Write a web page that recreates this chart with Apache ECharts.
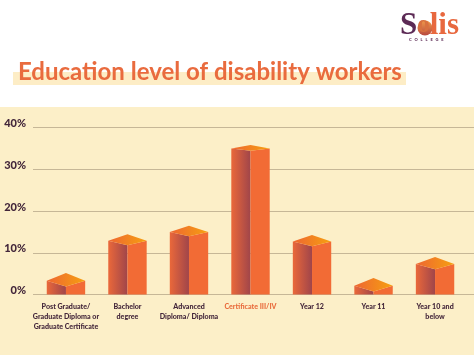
<!DOCTYPE html>
<html>
<head>
<meta charset="utf-8">
<style>
html, body { margin: 0; padding: 0; background: #fff; }
#chart { width: 474px; height: 355px; }
</style>
<script src="https://cdn.jsdelivr.net/npm/echarts@6/dist/echarts.min.js"></script>
</head>
<body>
<div id="chart"></div>
<script>
var categories = [
	'Post Graduate/\nGraduate Diploma or\nGraduate Certificate',
	'Bachelor\ndegree',
	'Advanced\nDiploma/ Diploma',
	'Certificate III/IV',
	'Year 12',
	'Year 11',
	'Year 10 and\nbelow'
];
var values = [3.3, 12.9, 15, 35, 12.7, 2.1, 7.3];
var highlighted = 'Certificate III/IV';
var yMax = 40;
var yStep = 10;

var fontName = 'Lato';
var darkText = '#43263a';
var orangeText = '#e96c3d';

var myChart = echarts.init(document.getElementById('chart'));

// the top of each bar is flatter the higher up it sits
function renderBar(params, api) {
	var top = api.coord([api.value(0), api.value(1)]);
	var bottom = api.coord([api.value(0), 0]);
	var half = 19.2;
	var cx = top[0];
	var y = top[1];
	var up = 0.033 * (y - 48);
	var down = 0.025 * (y - 52);
	var frontY = Math.min(y + down, bottom[1]);

	return {
		type: 'group',
		children: [
			{
				type: 'polygon',
				shape: { points: [[cx - half, y], [cx, frontY], [cx, bottom[1]], [cx - half, bottom[1]]] },
				style: {
					fill: new echarts.graphic.LinearGradient(0, 0, 1, 0, [
						{ offset: 0, color: '#ea683a' },
						{ offset: 1, color: '#a0454a' }
					])
				}
			},
			{
				type: 'polygon',
				shape: { points: [[cx, frontY], [cx + half, y], [cx + half, bottom[1]], [cx, bottom[1]]] },
				style: { fill: '#f26b35' }
			},
			{
				type: 'polygon',
				shape: { points: [[cx - half, y], [cx, y - up], [cx + half, y], [cx, frontY]] },
				style: {
					fill: new echarts.graphic.LinearGradient(0, 0, 1, 0, [
						{ offset: 0, color: '#ee6632' },
						{ offset: 1, color: '#f6a010' }
					])
				}
			}
		]
	};
}

option = {
	backgroundColor: '#fff',
	animation: false,
	graphic: [
		{
			type: 'rect', z: -1,
			shape: { x: 0, y: 107, width: 474, height: 248 },
			style: { fill: '#fcefc8' }
		},
		{
			type: 'rect', z: -1,
			shape: { x: 13, y: 72, width: 393, height: 13 },
			style: { fill: '#fdedc6' }
		},
		{
			type: 'circle', z: 1,
			shape: { cx: 425, cy: 28, r: 7.5 },
			style: {
				fill: new echarts.graphic.LinearGradient(0, 0, 0, 1, [
					{ offset: 0, color: '#ef9a4a' },
					{ offset: 1, color: '#b8483f' }
				])
			}
		},
		{
			type: 'text', left: 400, top: 10, z: 2,
			style: {
				text: '{a|S}{b|o}{c|lis}',
				rich: {
					a: { fontFamily: 'Liberation Serif', fontSize: 31, fontWeight: 'bold', fill: '#5c2a55' },
					b: { fontFamily: 'Liberation Serif', fontSize: 25, fontWeight: 'bold', fill: '#d8703f' },
					c: { fontFamily: 'Liberation Serif', fontSize: 31, fontWeight: 'bold', fill: '#e8683f' }
				}
			}
		},
		{
			type: 'text', left: 409, top: 38,
			style: { text: 'C   O   L   L   E   G   E', font: '900 4px "Lato"', fill: '#5c2a55' }
		}
	],
	title: {
		text: 'Education level of disability workers',
		left: 13,
		top: 55,
		textStyle: {
			fontFamily: fontName,
			fontSize: 24,
			fontWeight: 'bold',
			color: '#e96b3e'
		}
	},
	grid: [
		{ left: 33, right: 0, top: 127.5, height: 167 },
		{ left: 35.2, width: 430.6, top: 127.5, height: 167 }
	],
	xAxis: [
		{ gridIndex: 0, type: 'category', show: false, data: categories },
		{
			gridIndex: 1,
			type: 'category',
			data: categories.map(function (c) {
				return { value: c, textStyle: { color: c === highlighted ? orangeText : darkText } };
			}),
			axisLine: { show: false },
			axisTick: { show: false },
			axisLabel: {
				interval: 0,
				margin: 7,
				fontFamily: fontName,
				fontSize: 7.1,
				fontWeight: 900,
				lineHeight: 10
			}
		}
	],
	yAxis: [
		{
			gridIndex: 0,
			type: 'value',
			min: 0,
			max: yMax,
			interval: yStep,
			axisLine: { show: false },
			axisTick: { show: false },
			splitLine: { lineStyle: { color: '#c6b797', width: 1 } },
			axisLabel: {
				formatter: '{value}%',
				margin: 7,
				verticalAlign: 'bottom',
				lineHeight: 8,
				color: darkText,
				fontFamily: fontName,
				fontSize: 11,
				fontWeight: 900
			}
		},
		{
			gridIndex: 1,
			type: 'value',
			min: 0,
			max: yMax,
			interval: yStep,
			show: false
		}
	],
	series: [
		{
			name: 'Education level',
			type: 'custom',
			xAxisIndex: 1,
			yAxisIndex: 1,
			clip: false,
			renderItem: renderBar,
			encode: { x: 0, y: 1 },
			data: values.map(function (v, i) { return [i, v]; })
		}
	]
};

myChart.setOption(option, true);
</script>
</body>
</html>
